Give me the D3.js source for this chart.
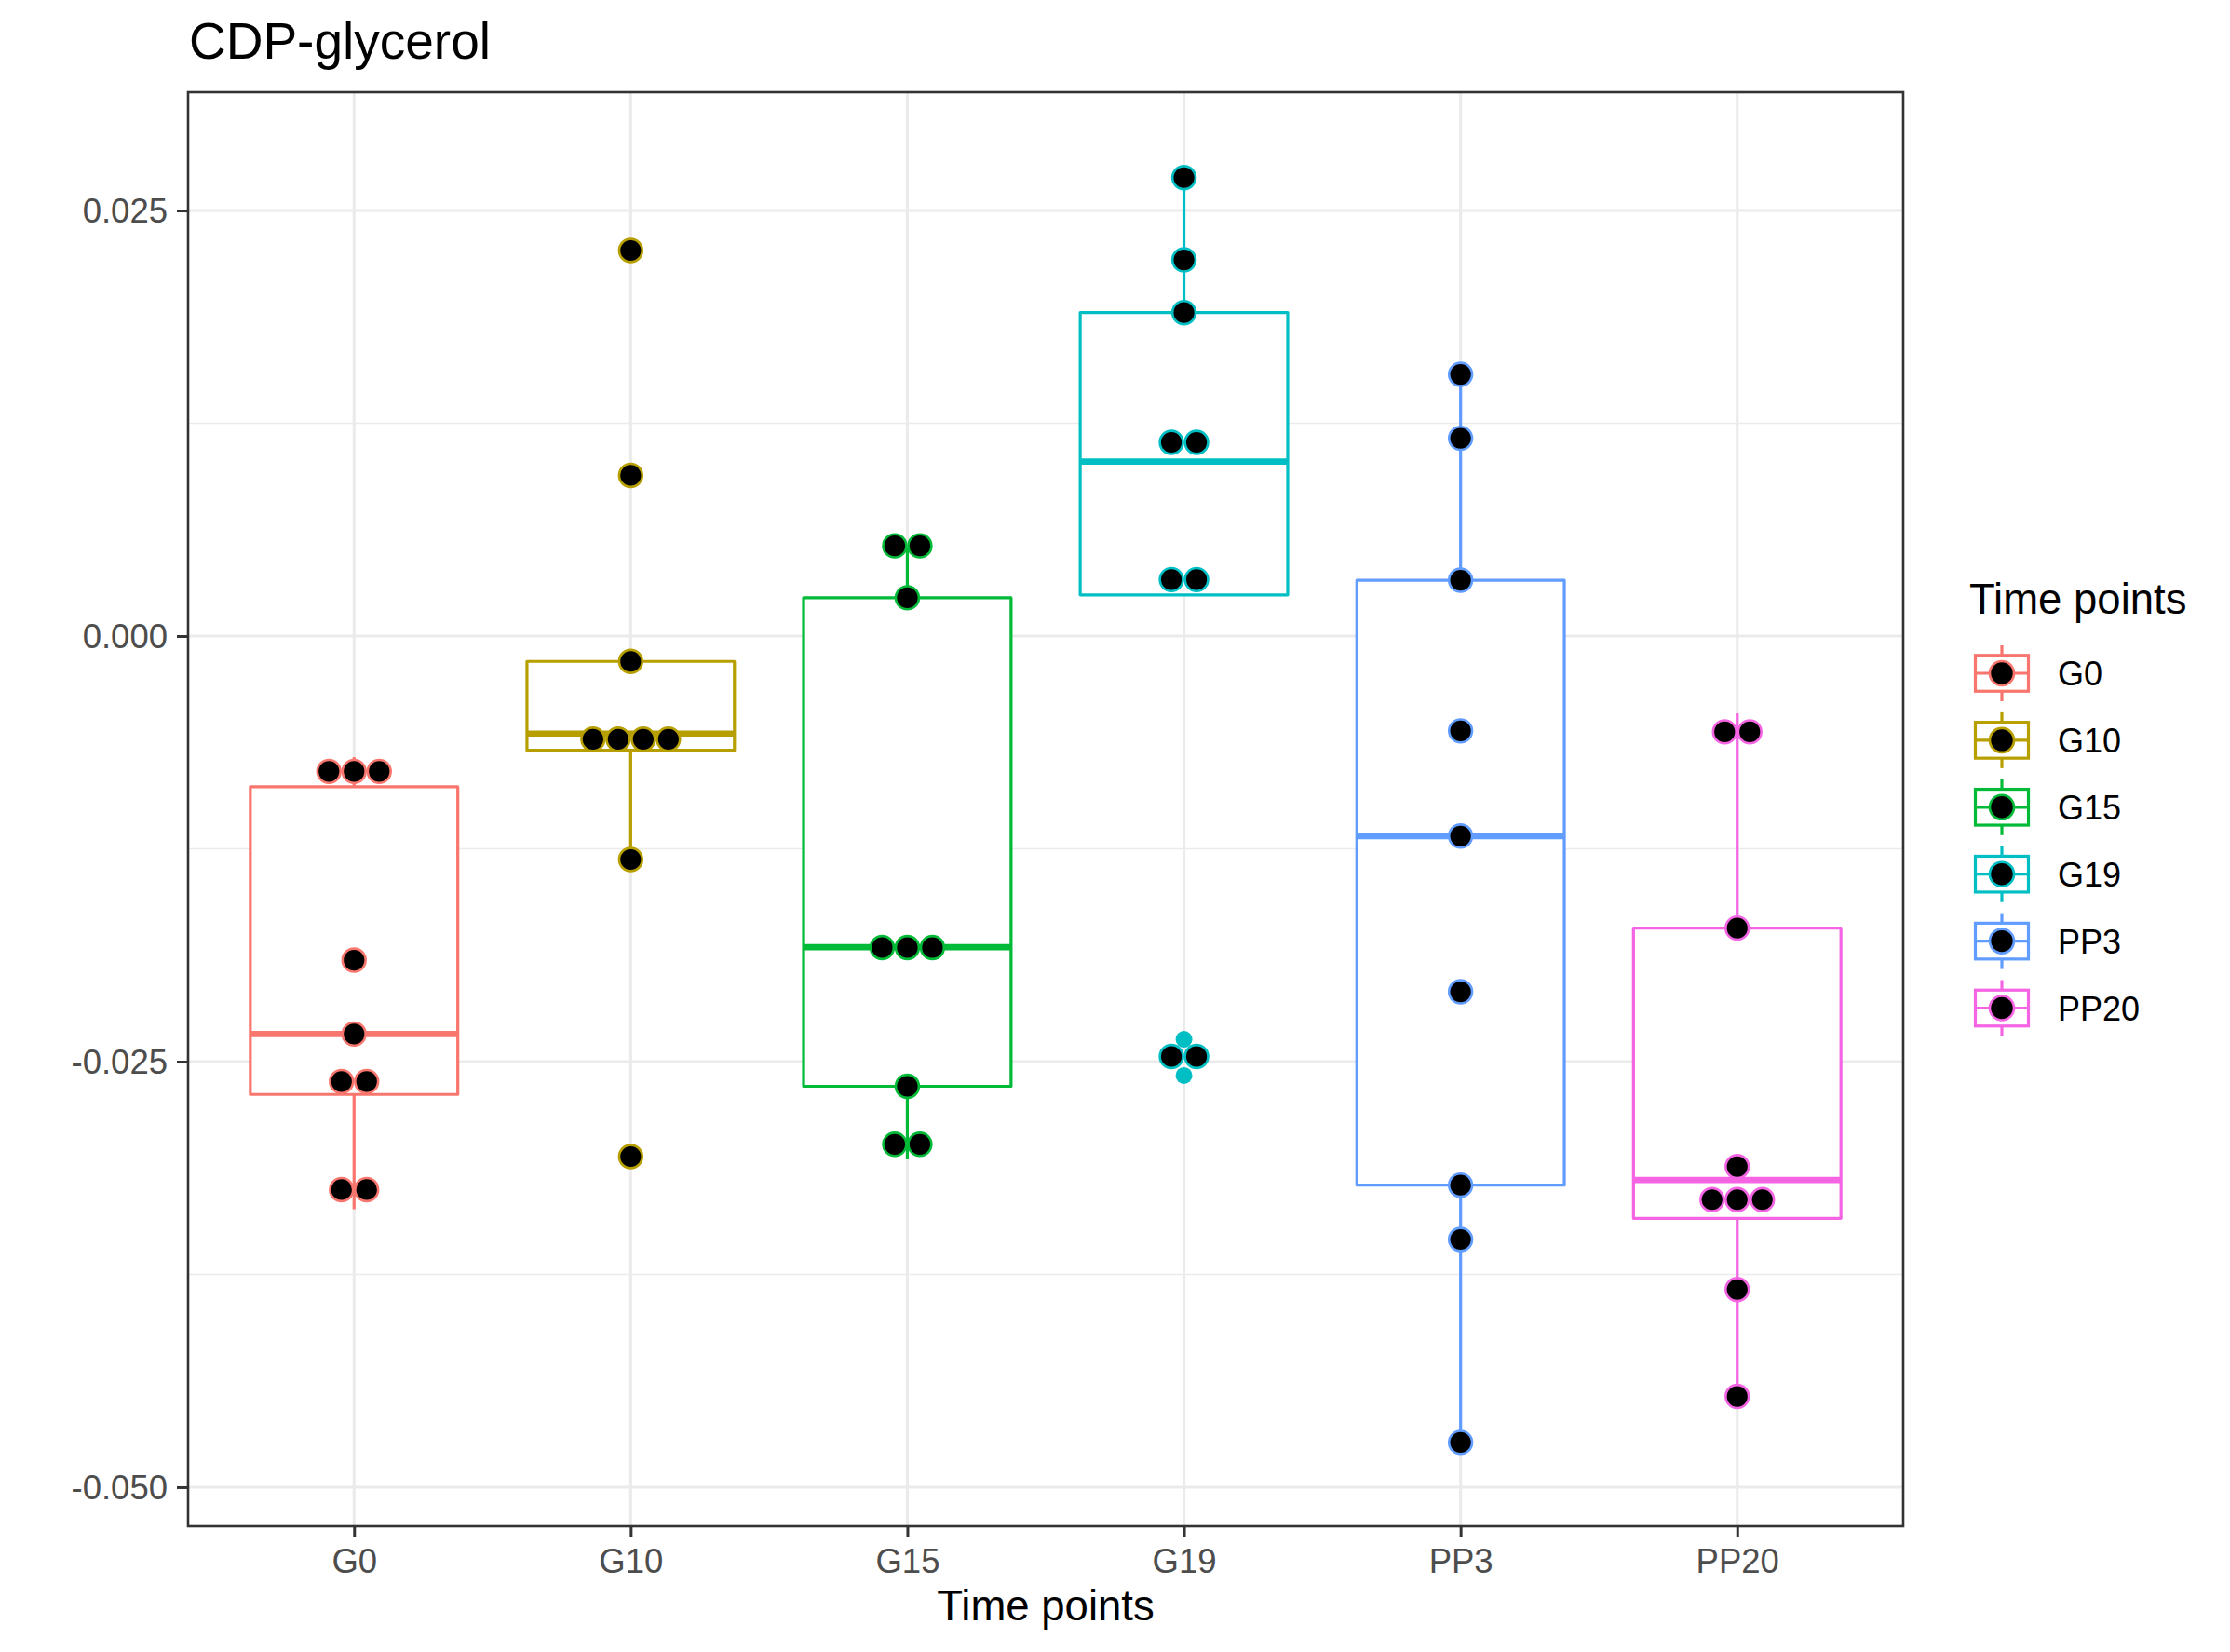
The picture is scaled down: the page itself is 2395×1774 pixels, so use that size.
<!DOCTYPE html>
<html>
<head>
<meta charset="utf-8">
<script src="https://cdn.jsdelivr.net/npm/d3@7"></script>
<style>
  html, body { margin: 0; padding: 0; background: #fff; }
  svg { display: block; }
  text { font-family: "Liberation Sans", Arial, Helvetica, sans-serif; }
</style>
</head>
<body>
<svg id="chart" width="2395" height="1774"></svg>
<script>
// ---------------- data ----------------
const categories = ["G0", "G10", "G15", "G19", "PP3", "PP20"];
const colors = ["#F8766D", "#B79F00", "#00BA38", "#00BFC4", "#619CFF", "#F564E3"];

// dot positions (binned values) per group
const dotsG0   = [-0.00795, -0.00795, -0.00795, -0.01904, -0.02338, -0.02617, -0.02617, -0.03252, -0.03252];
const dotsG10  = [0.02265, 0.00944, -0.00149, -0.00606, -0.00606, -0.00606, -0.00606, -0.01313, -0.03058];
const dotsG15  = [0.00530, 0.00530, 0.00225, -0.01830, -0.01830, -0.01830, -0.02645, -0.02986, -0.02986];
const dotsG19  = [0.02693, 0.02210, 0.01900, 0.01138, 0.01138, 0.00332, 0.00332, -0.02470, -0.02470];
const dotsPP3  = [0.01537, 0.01162, 0.00328, -0.00557, -0.01175, -0.02090, -0.03226, -0.03545, -0.04737];
const dotsPP20 = [-0.00563, -0.00563, -0.01716, -0.03117, -0.03311, -0.03311, -0.03311, -0.03839, -0.04467];

// boxplot statistics per group (same order as categories)
const whiskerHigh = [-0.00711, -0.00149, 0.00520, 0.02693, 0.01537, -0.00454];
const q3          = [-0.00886, -0.00149, 0.00225, 0.01900, 0.00328, -0.01716];
const median      = [-0.02338, -0.00573, -0.01828, 0.01025, -0.01175, -0.03195];
const q1          = [-0.02693, -0.00671, -0.02645, 0.00242, -0.03226, -0.03421];
const whiskerLow  = [-0.03367, -0.01313, -0.03074, 0.00242, -0.04737, -0.04467];

// boxplot outliers
const outlierGroup = ["G10", "G10", "G10", "G19", "G19"];
const outlierValue = [0.02265, 0.00944, -0.03058, -0.02369, -0.02582];

// axis ticks
const yTickValues = [0.025, 0, -0.025, -0.05];
const yTickLabels = ["0.025", "0.000", "-0.025", "-0.050"];
const yMinorValues = [0.0125, -0.0125, -0.0375];
const yDomain = [-0.0523, 0.03195];

const title = "CDP-glycerol";
const xTitle = "Time points";
const legendTitle = "Time points";

const allDots = [dotsG0, dotsG10, dotsG15, dotsG19, dotsPP3, dotsPP20];

// ---------------- layout ----------------
const panel = { left: 202, right: 2044, top: 99, bottom: 1639 };
const svg = d3.select("#chart");
const FONT = "'Liberation Sans', Arial, Helvetica, sans-serif";

const x = d3.scalePoint().domain(categories)
  .range([panel.left, panel.right]).padding(0.6);
const step = x.step();
const y = d3.scaleLinear().domain(yDomain).range([panel.bottom, panel.top]);
const color = d3.scaleOrdinal().domain(categories).range(colors);

const boxW = step * 0.75;
const dotR = 12.4;
const dotStroke = 2.6;
const dotSpacing = 27;
const lineW = 3.2;
const grid = "#EBEBEB";

// panel background
svg.append("rect").attr("x", panel.left).attr("y", panel.top)
  .attr("width", panel.right - panel.left).attr("height", panel.bottom - panel.top)
  .attr("fill", "#fff");

const gGrid = svg.append("g");
gGrid.selectAll("line.minor").data(yMinorValues).join("line")
  .attr("x1", panel.left).attr("x2", panel.right)
  .attr("y1", d => y(d)).attr("y2", d => y(d))
  .attr("stroke", grid).attr("stroke-width", 1.6);
gGrid.selectAll("line.majy").data(yTickValues).join("line")
  .attr("x1", panel.left).attr("x2", panel.right)
  .attr("y1", d => y(d)).attr("y2", d => y(d))
  .attr("stroke", grid).attr("stroke-width", 3.1);
gGrid.selectAll("line.majx").data(categories).join("line")
  .attr("x1", d => x(d)).attr("x2", d => x(d))
  .attr("y1", panel.top).attr("y2", panel.bottom)
  .attr("stroke", grid).attr("stroke-width", 3.1);

// boxplots
const boxes = categories.map((c, i) => ({
  c, hi: whiskerHigh[i], q3: q3[i], med: median[i], q1: q1[i], lo: whiskerLow[i]
}));
const gBox = svg.append("g");
boxes.forEach(b => {
  const cx = x(b.c), col = color(b.c);
  const g = gBox.append("g");
  g.append("line").attr("x1", cx).attr("x2", cx).attr("y1", y(b.q3)).attr("y2", y(b.hi))
    .attr("stroke", col).attr("stroke-width", lineW);
  g.append("line").attr("x1", cx).attr("x2", cx).attr("y1", y(b.q1)).attr("y2", y(b.lo))
    .attr("stroke", col).attr("stroke-width", lineW);
  g.append("rect").attr("x", cx - boxW / 2).attr("y", y(b.q3))
    .attr("width", boxW).attr("height", y(b.q1) - y(b.q3))
    .attr("fill", "#fff").attr("stroke", col).attr("stroke-width", lineW)
    .attr("stroke-linejoin", "round");
  g.append("line").attr("x1", cx - boxW / 2).attr("x2", cx + boxW / 2)
    .attr("y1", y(b.med)).attr("y2", y(b.med))
    .attr("stroke", col).attr("stroke-width", lineW * 2.1);
});

// outliers
svg.append("g").selectAll("circle").data(outlierGroup.map((g, i) => ({ g, v: outlierValue[i] })))
  .join("circle")
  .attr("cx", d => x(d.g)).attr("cy", d => y(d.v)).attr("r", 9)
  .attr("fill", d => color(d.g));

// dots (centered stacks)
const dotData = [];
categories.forEach((c, i) => {
  const counts = d3.rollups(allDots[i], v => v.length, v => v);
  counts.forEach(([val, n]) => {
    for (let k = 0; k < n; k++) dotData.push({ c, val, off: (k - (n - 1) / 2) * dotSpacing });
  });
});
svg.append("g").selectAll("circle").data(dotData).join("circle")
  .attr("cx", d => x(d.c) + d.off).attr("cy", d => y(d.val)).attr("r", dotR)
  .attr("fill", "#000").attr("stroke", d => color(d.c)).attr("stroke-width", dotStroke);

// panel border
svg.append("rect").attr("x", panel.left).attr("y", panel.top)
  .attr("width", panel.right - panel.left).attr("height", panel.bottom - panel.top)
  .attr("fill", "none").attr("stroke", "#333333").attr("stroke-width", 2.6);

// axes
const yAxis = d3.axisLeft(y).tickValues(yTickValues)
  .tickFormat((d, i) => yTickLabels[i]).tickSize(12).tickPadding(10);
const gy = svg.append("g").attr("transform", `translate(${panel.left},0)`).call(yAxis);
gy.select(".domain").remove();
gy.selectAll(".tick line").attr("stroke", "#333333").attr("stroke-width", 3);
gy.selectAll(".tick text").attr("fill", "#4D4D4D").attr("font-size", 36.5)
  .attr("dy", "0.35em").style("font-family", FONT);

const xAxis = d3.axisBottom(x).tickSize(12).tickPadding(9);
const gx = svg.append("g").attr("transform", `translate(0,${panel.bottom})`).call(xAxis);
gx.select(".domain").remove();
gx.selectAll(".tick line").attr("stroke", "#333333").attr("stroke-width", 3);
gx.selectAll(".tick text").attr("fill", "#4D4D4D").attr("font-size", 36.5)
  .attr("y", 50).attr("dy", 0).style("font-family", FONT);

// titles
svg.append("text").attr("x", 203).attr("y", 63).attr("font-size", 55)
  .attr("fill", "#000").text(title);
svg.append("text").attr("x", (panel.left + panel.right) / 2).attr("y", 1740)
  .attr("text-anchor", "middle").attr("font-size", 45.5).attr("fill", "#000").text(xTitle);

// legend
const lg = svg.append("g");
lg.append("text").attr("x", 2115).attr("y", 659).attr("font-size", 45.5)
  .attr("fill", "#000").text(legendTitle);
const keyX = 2150, keyY0 = 723, keyStep = 71.9, keyW = 57, keyH = 38.5, whH = 30;
categories.forEach((c, i) => {
  const cy = keyY0 + i * keyStep, col = color(c);
  const k = lg.append("g");
  k.append("line").attr("x1", keyX).attr("x2", keyX).attr("y1", cy - whH).attr("y2", cy + whH)
    .attr("stroke", col).attr("stroke-width", lineW);
  k.append("rect").attr("x", keyX - keyW / 2).attr("y", cy - keyH / 2)
    .attr("width", keyW).attr("height", keyH).attr("fill", "#fff")
    .attr("stroke", col).attr("stroke-width", lineW);
  k.append("line").attr("x1", keyX - keyW / 2).attr("x2", keyX + keyW / 2)
    .attr("y1", cy).attr("y2", cy).attr("stroke", col).attr("stroke-width", lineW);
  k.append("circle").attr("cx", keyX).attr("cy", cy).attr("r", 13)
    .attr("fill", "#000").attr("stroke", col).attr("stroke-width", dotStroke);
  k.append("text").attr("x", 2210).attr("y", cy + 13).attr("font-size", 36)
    .attr("fill", "#000").text(c);
});
</script>
</body>
</html>
